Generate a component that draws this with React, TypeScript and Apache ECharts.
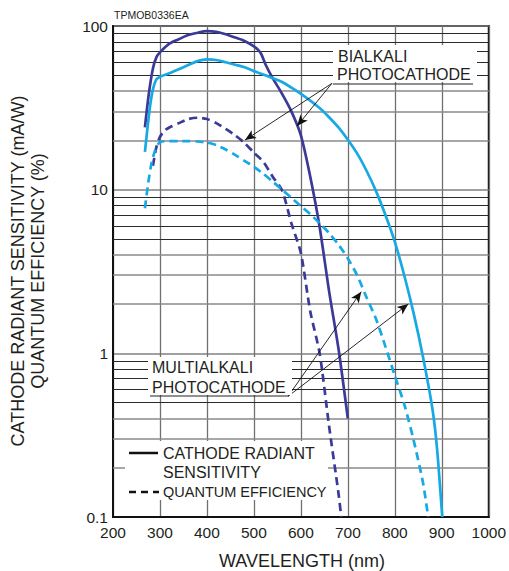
import React, { useEffect, useRef } from "react";
import * as echarts from "echarts";

// ---- data (wavelength nm, value) ----
const bialkaliSensitivity: [number, number][] = [
  [268, 24], [276, 38], [285, 55], [293, 65], [302, 70], [320, 78], [340, 83],
  [360, 88], [380, 91], [400, 93], [420, 92], [440, 89], [460, 85], [480, 81],
  [500, 75], [510, 71], [516, 67], [525, 58], [540, 48], [560, 38.5], [580, 30],
  [600, 21.5], [620, 12], [640, 5.9], [660, 2.4], [680, 1.07], [700, 0.4],
];
const bialkaliQE: [number, number][] = [
  [285, 14], [292, 18], [300, 21], [310, 23], [320, 24], [340, 25.5], [360, 27],
  [380, 27.5], [400, 27], [420, 25.5], [440, 23.5], [460, 21.5], [480, 19.3],
  [500, 16.8], [520, 14.8], [540, 12], [560, 9.9], [580, 6.2], [600, 4.1],
  [620, 1.8], [640, 1.0], [660, 0.36], [680, 0.14], [686, 0.1],
];
const multialkaliSensitivity: [number, number][] = [
  [268, 17], [278, 31], [285, 41], [292, 47], [300, 49], [320, 51.5], [350, 56],
  [380, 61], [400, 62.5], [420, 62], [440, 60], [460, 58], [480, 56], [500, 53],
  [520, 50.5], [540, 48], [560, 45.5], [580, 42], [600, 38.5], [620, 35],
  [640, 31.5], [660, 27.7], [680, 24], [700, 20.2], [720, 16.6], [740, 13],
  [760, 9.8], [780, 7.0], [800, 4.8], [820, 3.0], [840, 1.76], [860, 0.95],
  [880, 0.46], [890, 0.26], [901, 0.1],
];
const multialkaliQE: [number, number][] = [
  [268, 7.7], [275, 11], [282, 14.5], [290, 17.5], [300, 19.5], [320, 19.8],
  [340, 19.8], [360, 19.8], [380, 19.7], [400, 19.4], [420, 18.7], [440, 17.6],
  [460, 16.3], [480, 15], [500, 13.8], [520, 12.5], [540, 11.2], [560, 10],
  [580, 8.9], [600, 7.94], [620, 7.08], [640, 6.24], [660, 5.43], [680, 4.62],
  [700, 3.8], [720, 2.99], [740, 2.19], [760, 1.62], [780, 1.1], [800, 0.73],
  [820, 0.49], [840, 0.295], [860, 0.162], [871, 0.1],
];

// minor log grid values (lighter ones: multiples 2,3,4)
const minorGridLight = [0.2, 0.3, 0.4, 2, 3, 4, 20, 30, 40];
const minorGridDark = [0.5, 0.6, 0.7, 0.8, 0.9, 5, 6, 7, 8, 9, 50, 60, 70, 80, 90];

// annotation arrows (data coordinates)
const bialkaliArrowFrom: [number, number] = [666, 44.6];
const bialkaliArrowTo: [number, number][] = [[481, 20.1], [592, 24.5]];
const multialkaliArrowFrom: [number, number] = [573, 0.547];
const multialkaliArrowTo: [number, number][] = [[728.5, 2.38], [828.6, 2.0]];

const xMin = 200, xMax = 1000, xStep = 100;
const yMin = 0.1, yMax = 100;

const FONT = "'Liberation Sans', Arial, Helvetica, sans-serif";
const DARK = "#3b3a98";
const LIGHT = "#16a9e4";
const INK = "#231f20";

function txt(text: string, x: number, y: number, size: number, align = "left", extra: any = {}, lh = 20) {
  return {
    type: "text", x, y, z: 101, silent: true, ...extra,
    style: {
      text, fill: INK, fontSize: size, fontFamily: FONT,
      align, textAlign: align, verticalAlign: "middle", textVerticalAlign: "middle",
      lineHeight: lh,
    },
  };
}

export default function App() {
  const ref = useRef<HTMLDivElement>(null);
  useEffect(() => {
    if (!ref.current) return;
    const chart = echarts.init(ref.current, undefined, { renderer: "svg" });
    const curve = (name: string, data: [number, number][], color: string, dashed: boolean) => ({
      name, type: "line", data, symbol: "none", smooth: 0.25, z: 3, silent: true,
      lineStyle: { color, width: 2.7, type: dashed ? [8, 5] : "solid" },
    });
    const arrowLines = [
      ...bialkaliArrowTo.map((t) => [{ coord: bialkaliArrowFrom }, { coord: t }]),
      ...multialkaliArrowTo.map((t) => [{ coord: multialkaliArrowFrom }, { coord: t }]),
    ];
    const option: any = {
      animation: false,
      grid: {
        left: 113, right: 18, top: 26, bottom: 54, show: true,
        borderColor: "#111", borderWidth: 2, backgroundColor: "#fff",
      },
      xAxis: {
        type: "value", min: xMin, max: xMax, interval: xStep,
        axisLine: { show: true, lineStyle: { color: "#111", width: 2 } },
        axisTick: { show: false },
        axisLabel: {
          color: INK, fontSize: 15.5, fontFamily: FONT, margin: 7,
          showMinLabel: true, showMaxLabel: true,
          formatter: (v: number) => String(v),
        },
        splitLine: { show: true, lineStyle: { color: "#707070", width: 1.3 } },
      },
      yAxis: {
        type: "log", logBase: 10, min: yMin, max: yMax,
        axisLine: { show: true, lineStyle: { color: "#111", width: 2 } },
        axisTick: { show: false },
        axisLabel: {
          color: INK, fontSize: 15.5, fontFamily: FONT, margin: 5,
          formatter: (v: number) => String(Math.round(v * 10) / 10),
        },
        splitLine: { show: true, lineStyle: { color: "#808080", width: 1.5 } },
      },
      series: [
        {
          type: "line", data: [[xMin, yMax]], symbol: "none", silent: true, z: 1,
          lineStyle: { width: 0 },
          markLine: {
            silent: true, z: 1, symbol: ["none", "none"], label: { show: false },
            emphasis: { disabled: true },
            data: [
              ...minorGridLight.map((v) => ({ yAxis: v, lineStyle: { color: "#8a8a8a", width: 1.5, type: "solid" } })),
              ...minorGridDark.map((v) => ({ yAxis: v, lineStyle: { color: "#2a2a2a", width: 1, type: "solid" } })),
            ],
          },
        },
        curve("Bialkali sensitivity", bialkaliSensitivity, DARK, false),
        curve("Bialkali QE", bialkaliQE, DARK, true),
        curve("Multialkali sensitivity", multialkaliSensitivity, LIGHT, false),
        curve("Multialkali QE", multialkaliQE, LIGHT, true),
        {
          type: "line", data: [[xMin, yMax]], symbol: "none", silent: true, z: 4,
          lineStyle: { width: 0 },
          markLine: {
            silent: true, z: 6, symbol: ["none", "arrow"], symbolSize: [7, 11],
            label: { show: false }, emphasis: { disabled: true },
            lineStyle: { color: "#111", width: 0.9, type: "solid" },
            data: arrowLines,
          },
        },
      ],
      graphic: [
        txt("TPMOB0336EA", 114, 15, 10.5),
        txt("CATHODE RADIANT SENSITIVITY (mA/W)\nQUANTUM EFFICIENCY (%)", 28, 271, 18, "center", { rotation: Math.PI / 2 }),
        txt("WAVELENGTH (nm)", 302, 561, 18, "center", {}, 18),
        // bialkali label
        { type: "rect", z: 100, silent: true, shape: { x: 333, y: 45, width: 144, height: 37 }, style: { fill: "#fff" } },
        txt("BIALKALI", 338, 56, 16),
        txt("PHOTOCATHODE", 337, 74, 16),
        { type: "line", z: 101, silent: true, shape: { x1: 333, y1: 84, x2: 473, y2: 84 }, style: { stroke: "#222", lineWidth: 1 } },
        // multialkali label
        { type: "rect", z: 100, silent: true, shape: { x: 148, y: 357, width: 144, height: 38 }, style: { fill: "#fff" } },
        txt("MULTIALKALI", 152, 367.5, 16),
        txt("PHOTOCATHODE", 152, 387.5, 16),
        { type: "line", z: 101, silent: true, shape: { x1: 150, y1: 396, x2: 289, y2: 396 }, style: { stroke: "#222", lineWidth: 1 } },
        // legend
        { type: "rect", z: 100, silent: true, shape: { x: 125, y: 441, width: 203, height: 59 }, style: { fill: "#fff" } },
        { type: "line", z: 101, silent: true, shape: { x1: 129, y1: 453, x2: 158, y2: 453 }, style: { stroke: "#111", lineWidth: 2.5 } },
        txt("CATHODE RADIANT", 163, 453, 16),
        txt("SENSITIVITY", 163, 472, 16),
        { type: "line", z: 101, silent: true, shape: { x1: 129, y1: 492, x2: 159, y2: 492 }, style: { stroke: "#111", lineWidth: 2.5, lineDash: [7, 5] } },
        txt("QUANTUM EFFICIENCY", 163, 492, 14.5),
      ],
    };
    chart.setOption(option);
    return () => chart.dispose();
  }, []);
  return (
    <div
      ref={ref}
      style={{ position: "fixed", left: 0, top: 0, width: 509, height: 571, background: "#fff" }}
    />
  );
}
